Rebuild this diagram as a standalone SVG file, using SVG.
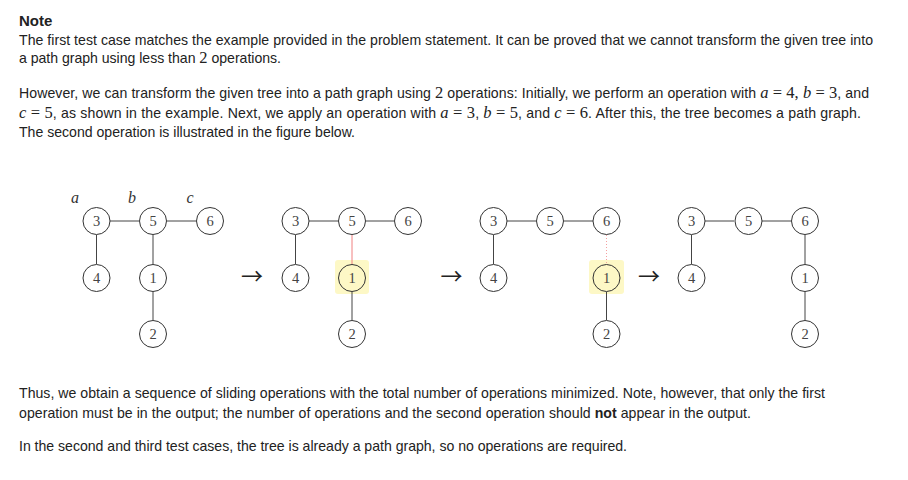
<svg xmlns="http://www.w3.org/2000/svg" width="908" height="480" viewBox="0 0 908 480">
<style>
.t{font-family:"Liberation Sans",Arial,sans-serif;font-size:14.1px;fill:#222}
.h{font-family:"Liberation Sans",Arial,sans-serif;font-size:15px;font-weight:bold;fill:#222}
.m{font-family:"Liberation Serif","Times New Roman",serif;font-size:16.5px}
.i{font-style:italic}
.n circle{fill:#fff;stroke:#333;stroke-width:1}
.n text{font-family:"Liberation Serif","Times New Roman",serif;font-size:14.5px;fill:#444;text-anchor:middle}
.lbl{font-family:"Liberation Serif","Times New Roman",serif;font-size:16px;font-style:italic;fill:#333;text-anchor:middle}
.arr{font-family:"Noto Sans CJK SC",sans-serif;font-size:22px;fill:#222;text-anchor:middle}
.e line{stroke:#444;stroke-width:1}
.e line.red{stroke:#f08080}
.e line.dot{stroke:#f4a0a0;stroke-dasharray:1 2}
.hl{fill:#fdf8c6}
</style>
<rect width="908" height="480" fill="#fff"/>
<text class="h" x="19" y="26">Note</text>
<text class="t" x="19" y="45" textLength="854" lengthAdjust="spacing">The first test case matches the example provided in the problem statement. It can be proved that we cannot transform the given tree into</text>
<text class="t" x="19" y="63" textLength="262" lengthAdjust="spacing">a path graph using less than <tspan class="m">2</tspan> operations.</text>
<text class="t" x="19" y="98" textLength="850" lengthAdjust="spacing">However, we can transform the given tree into a path graph using <tspan class="m">2</tspan> operations: Initially, we perform an operation with <tspan class="m"><tspan class="i">a</tspan> = 4, <tspan class="i">b</tspan> = 3</tspan>, and</text>
<text class="t" x="19" y="118" textLength="842" lengthAdjust="spacing"><tspan class="m"><tspan class="i">c</tspan> = 5</tspan>, as shown in the example. Next, we apply an operation with <tspan class="m"><tspan class="i">a</tspan> = 3</tspan>, <tspan class="m"><tspan class="i">b</tspan> = 5</tspan>, and <tspan class="m"><tspan class="i">c</tspan> = 6</tspan>. After this, the tree becomes a path graph.</text>
<text class="t" x="19" y="137" textLength="336" lengthAdjust="spacing">The second operation is illustrated in the figure below.</text>
<text class="t" x="19" y="398" textLength="806" lengthAdjust="spacing">Thus, we obtain a sequence of sliding operations with the total number of operations minimized. Note, however, that only the first</text>
<text class="t" x="19" y="418" textLength="732" lengthAdjust="spacing">operation must be in the output; the number of operations and the second operation should <tspan font-weight="bold">not</tspan> appear in the output.</text>
<text class="t" x="19" y="451" textLength="608" lengthAdjust="spacing">In the second and third test cases, the tree is already a path graph, so no operations are required.</text>

<rect class="hl" x="335" y="260" width="34" height="34" rx="3"/>
<rect class="hl" x="589" y="260" width="35" height="34" rx="3"/>

<g id="connectors" class="e">
<line x1="110" y1="221" x2="139" y2="221"/>
<line x1="167" y1="221" x2="196" y2="221"/>
<line x1="96.5" y1="235" x2="96.5" y2="264"/>
<line x1="153" y1="235" x2="153" y2="264"/>
<line x1="153" y1="292" x2="153" y2="320"/>

<line x1="309" y1="221" x2="338" y2="221"/>
<line x1="366" y1="221" x2="394" y2="221"/>
<line x1="295.5" y1="235" x2="295.5" y2="264"/>
<line class="red" x1="352" y1="235" x2="352" y2="264"/>
<line x1="352" y1="292" x2="352" y2="320"/>

<line x1="507" y1="221" x2="536" y2="221"/>
<line x1="564" y1="221" x2="593" y2="221"/>
<line x1="493.5" y1="235" x2="493.5" y2="264"/>
<line class="dot" x1="606.5" y1="235" x2="606.5" y2="264"/>
<line x1="606.5" y1="292" x2="606.5" y2="320"/>

<line x1="705" y1="221" x2="734" y2="221"/>
<line x1="762" y1="221" x2="791" y2="221"/>
<line x1="691.5" y1="235" x2="691.5" y2="264"/>
<line x1="805" y1="235" x2="805" y2="264"/>
<line x1="805" y1="292" x2="805" y2="320"/>
</g>

<text class="lbl" x="75" y="203">a</text>
<text class="lbl" x="132" y="203">b</text>
<text class="lbl" x="190" y="203">c</text>

<g id="t1-3" class="n"><circle cx="96.5" cy="221" r="13.5"/><text x="96.5" y="226">3</text></g>
<g id="t1-5" class="n"><circle cx="153" cy="221" r="13.5"/><text x="153" y="226">5</text></g>
<g id="t1-6" class="n"><circle cx="210" cy="221" r="13.5"/><text x="210" y="226">6</text></g>
<g id="t1-4" class="n"><circle cx="96.5" cy="278" r="13.5"/><text x="96.5" y="283">4</text></g>
<g id="t1-1" class="n"><circle cx="153" cy="278" r="13.5"/><text x="153" y="283">1</text></g>
<g id="t1-2" class="n"><circle cx="153" cy="334" r="13.5"/><text x="153" y="339">2</text></g>

<g id="t2-3" class="n"><circle cx="295.5" cy="221" r="13.5"/><text x="295.5" y="226">3</text></g>
<g id="t2-5" class="n"><circle cx="352" cy="221" r="13.5"/><text x="352" y="226">5</text></g>
<g id="t2-6" class="n"><circle cx="408" cy="221" r="13.5"/><text x="408" y="226">6</text></g>
<g id="t2-4" class="n"><circle cx="295.5" cy="278" r="13.5"/><text x="295.5" y="283">4</text></g>
<g id="t2-1" class="n"><circle cx="352" cy="278" r="13.5" style="fill:none"/><text x="352" y="283">1</text></g>
<g id="t2-2" class="n"><circle cx="352" cy="334" r="13.5"/><text x="352" y="339">2</text></g>

<g id="t3-3" class="n"><circle cx="493.5" cy="221" r="13.5"/><text x="493.5" y="226">3</text></g>
<g id="t3-5" class="n"><circle cx="550" cy="221" r="13.5"/><text x="550" y="226">5</text></g>
<g id="t3-6" class="n"><circle cx="606.5" cy="221" r="13.5"/><text x="606.5" y="226">6</text></g>
<g id="t3-4" class="n"><circle cx="493.5" cy="278" r="13.5"/><text x="493.5" y="283">4</text></g>
<g id="t3-1" class="n"><circle cx="606.5" cy="278" r="13.5" style="fill:none"/><text x="606.5" y="283">1</text></g>
<g id="t3-2" class="n"><circle cx="606.5" cy="334" r="13.5"/><text x="606.5" y="339">2</text></g>

<g id="t4-3" class="n"><circle cx="691.5" cy="221" r="13.5"/><text x="691.5" y="226">3</text></g>
<g id="t4-5" class="n"><circle cx="748.5" cy="221" r="13.5"/><text x="748.5" y="226">5</text></g>
<g id="t4-6" class="n"><circle cx="805" cy="221" r="13.5"/><text x="805" y="226">6</text></g>
<g id="t4-4" class="n"><circle cx="691.5" cy="278" r="13.5"/><text x="691.5" y="283">4</text></g>
<g id="t4-1" class="n"><circle cx="805" cy="278" r="13.5"/><text x="805" y="283">1</text></g>
<g id="t4-2" class="n"><circle cx="805" cy="334" r="13.5"/><text x="805" y="339">2</text></g>

<text class="arr" x="252" y="284">→</text>
<text class="arr" x="451.5" y="284">→</text>
<text class="arr" x="649" y="284">→</text>
</svg>
